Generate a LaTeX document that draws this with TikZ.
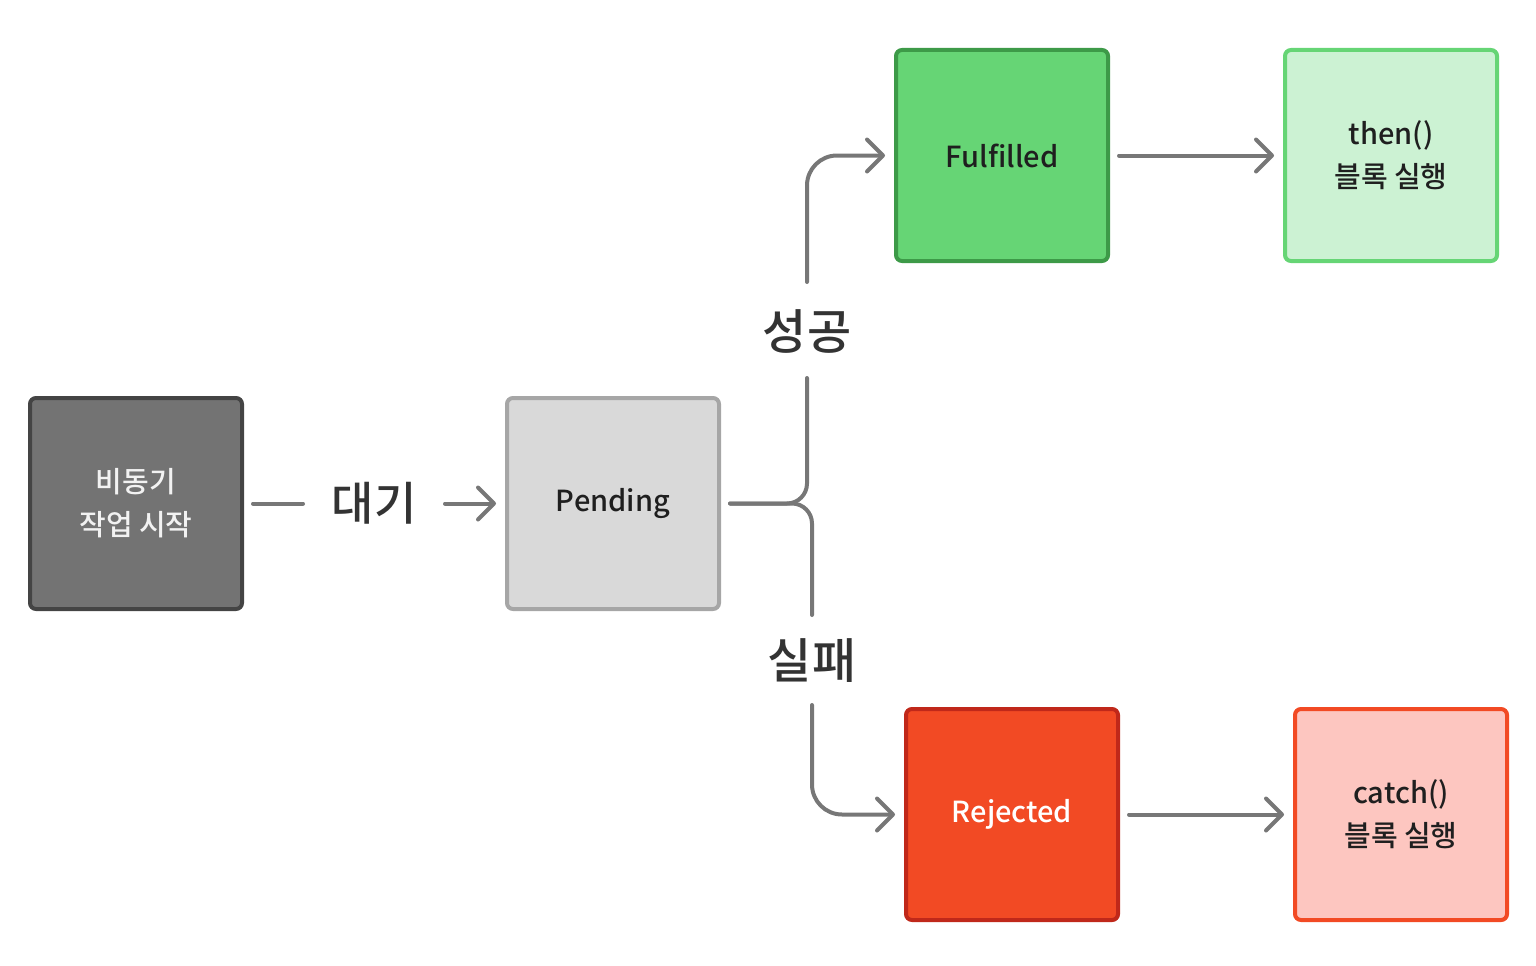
\documentclass[tikz,border=0pt]{standalone}
\usepackage{fontspec}
\setmainfont{Noto Sans CJK KR}
\newfontfamily\medfont{Noto Sans CJK KR Medium}
\usetikzlibrary{positioning,arrows.meta}

\definecolor{startfill}{HTML}{737373}
\definecolor{startline}{HTML}{444444}
\definecolor{pendfill}{HTML}{D9D9D9}
\definecolor{pendline}{HTML}{A6A6A6}
\definecolor{okfill}{HTML}{66D575}
\definecolor{okline}{HTML}{3D9A48}
\definecolor{thenfill}{HTML}{CCF2D3}
\definecolor{rejfill}{HTML}{F24A24}
\definecolor{rejline}{HTML}{C0281A}
\definecolor{catchfill}{HTML}{FDC6C0}
\definecolor{conngray}{HTML}{777777}
\definecolor{labelgray}{HTML}{333333}

\begin{document}
\begin{tikzpicture}[
  x=1pt, y=-1pt,
  box/.style={rectangle, draw, line width=4pt, rounded corners=6pt,
              minimum width=212pt, minimum height=211pt, align=center,
              text=black!88, font=\fontsize{29}{43}\selectfont\medfont},
  lbl/.style={inner sep=0pt, text=labelgray,
              font=\fontsize{48}{56}\selectfont\medfont},
  conn/.style={draw=conngray, line width=4pt, line cap=round,
               rounded corners=20pt},
  arr/.style={conn, -{Straight Barb[length=16pt, width=32pt, round]}}
]
\useasboundingbox (0,0) rectangle (1536,966);

\node[box, fill=startfill, draw=startline, text=white!95!black] (start) at (136,503.5)
  {비동기\\작업 시작};
\node[box, fill=pendfill, draw=pendline, right=261pt of start] (pending) {Pending};
\node[box, fill=okfill, draw=okline, above right=133pt and 173pt of pending] (ok) {Fulfilled};
\node[box, fill=thenfill, draw=okfill, right=173pt of ok] (then) {then()\\블록 실행};
\node[box, fill=rejfill, draw=rejline, text=white, below right=96pt and 183pt of pending] (rej) {Rejected};
\node[box, fill=catchfill, draw=rejfill, right=173pt of rej] (catch) {catch()\\블록 실행};

% labels on the connectors
\node[lbl, font=\fontsize{46}{52}\selectfont\medfont] (wait) at (374,503.5) {대기};
\node[lbl] (succ) at (807,331) {성공};
\node[lbl] (fail) at (812,661) {실패};

\draw[conn, shorten <=9pt, shorten >=71pt] (start) -- (wait.center);
\draw[arr, shorten <=71pt, shorten >=9pt] (wait.center) -- (pending);

% fork after Pending
\draw[conn, shorten <=9pt, shorten >=47pt] (pending.east) -| (succ.center);
\draw[conn, shorten <=9pt, shorten >=46pt] (pending.east) -| (fail.center);
\draw[arr, rounded corners=30pt, shorten <=49pt, shorten >=9pt] (succ.center) |- (ok.west);
\draw[arr, rounded corners=30pt, shorten <=44pt, shorten >=9pt] (fail.center) |- (rej.west);

\draw[arr, shorten <=9pt, shorten >=9pt] (ok) -- (then);
\draw[arr, shorten <=9pt, shorten >=9pt] (rej) -- (catch);
\end{tikzpicture}
\end{document}
